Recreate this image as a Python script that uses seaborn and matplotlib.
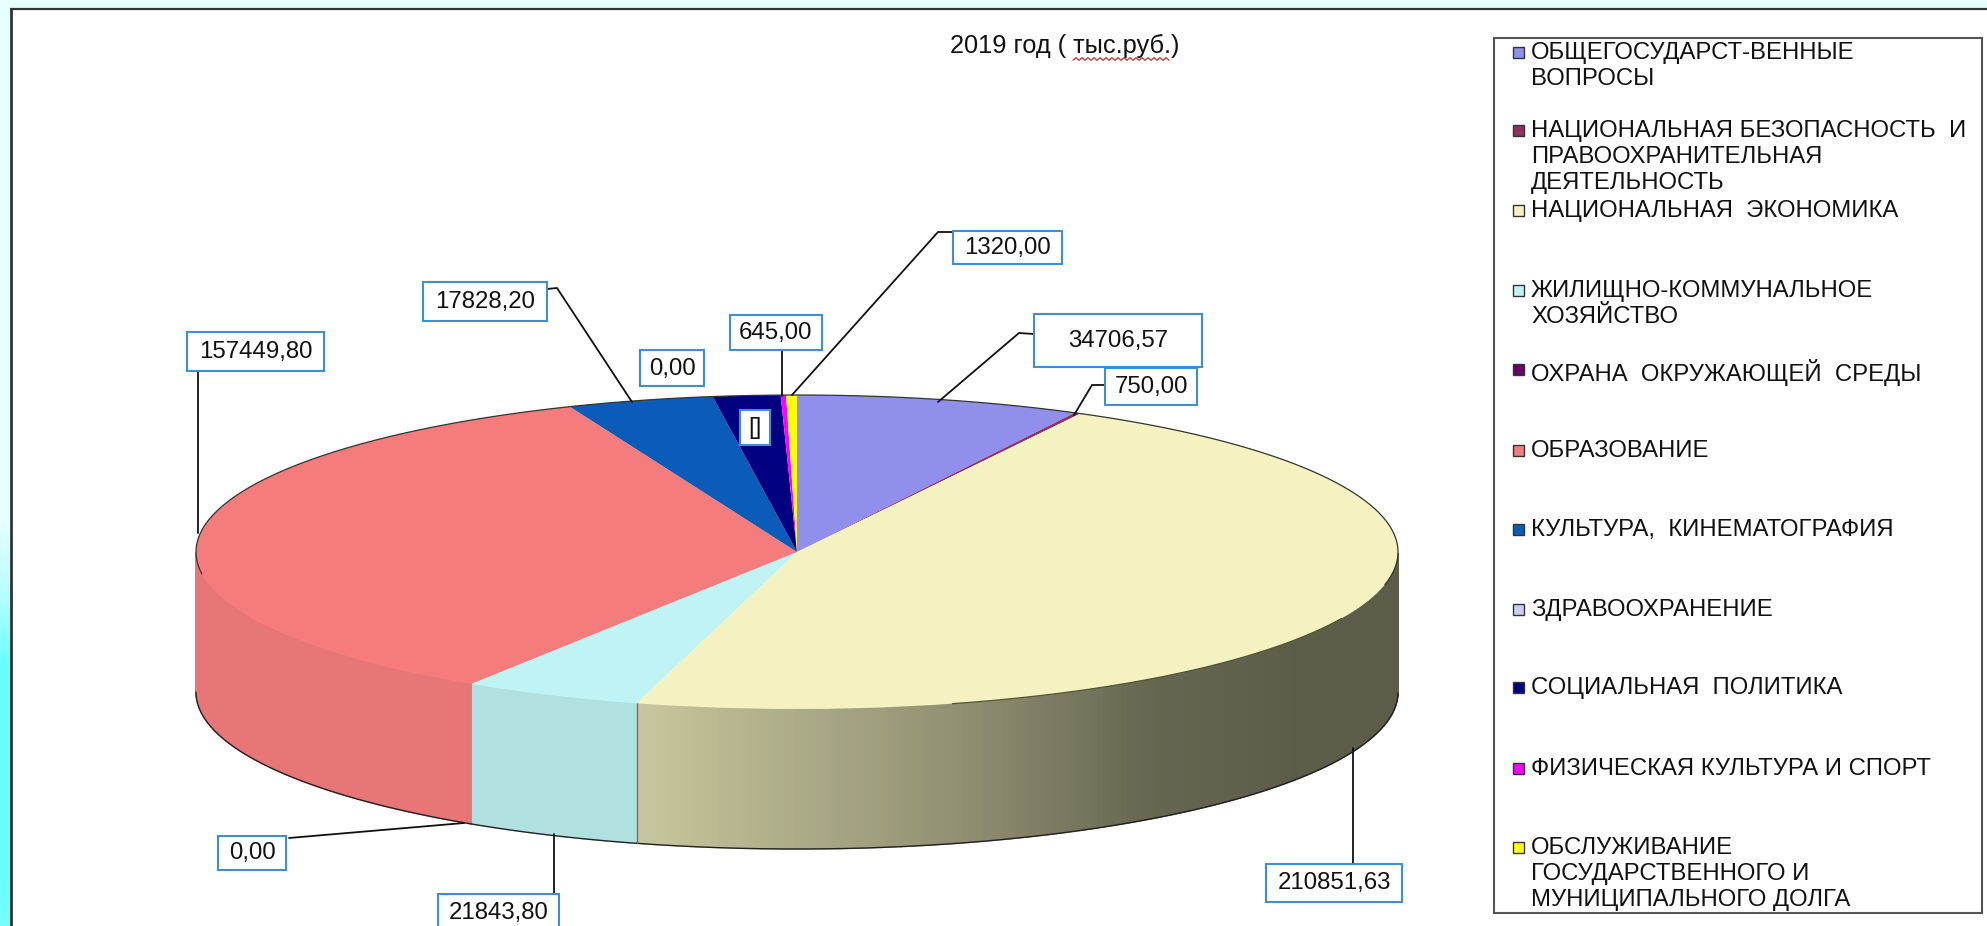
import numpy as np
import matplotlib
matplotlib.use("Agg")
import matplotlib.pyplot as plt
from matplotlib.colors import to_rgb
from matplotlib.patches import Rectangle
import seaborn as sns

# ---- data ----
categories = [
    "ОБЩЕГОСУДАРСТ-ВЕННЫЕ\nВОПРОСЫ",
    "НАЦИОНАЛЬНАЯ БЕЗОПАСНОСТЬ  И\nПРАВООХРАНИТЕЛЬНАЯ\nДЕЯТЕЛЬНОСТЬ",
    "НАЦИОНАЛЬНАЯ  ЭКОНОМИКА",
    "ЖИЛИЩНО-КОММУНАЛЬНОЕ\nХОЗЯЙСТВО",
    "ОХРАНА  ОКРУЖАЮЩЕЙ  СРЕДЫ",
    "ОБРАЗОВАНИЕ",
    "КУЛЬТУРА,  КИНЕМАТОГРАФИЯ",
    "ЗДРАВООХРАНЕНИЕ",
    "СОЦИАЛЬНАЯ  ПОЛИТИКА",
    "ФИЗИЧЕСКАЯ КУЛЬТУРА И СПОРТ",
    "ОБСЛУЖИВАНИЕ\nГОСУДАРСТВЕННОГО И\nМУНИЦИПАЛЬНОГО ДОЛГА",
]
# The social-policy slice carries the label "[]"; its value is estimated from its arc.
values = [34706.57, 750.00, 210851.63, 21843.80, 0.00, 157449.80,
          17828.20, 0.00, 8200.00, 645.00, 1320.00]
value_labels = ["34706,57", "750,00", "210851,63", "21843,80", "0,00", "157449,80",
                "17828,20", "0,00", "[]", "645,00", "1320,00"]
colors = ["#9090ec", "#8f3060", "#f4f2c0", "#c0f4f4", "#660066", "#f57c7c",
          "#0a5cb8", "#ccccff", "#000080", "#ff00ff", "#ffff00"]
title = "2019 год ( тыс.руб.)"

W, H = 1987, 926
CX, CY, RX, RY, DEPTH = 797, 552, 601, 157, 140

sns.set_theme(style="white")
plt.rcParams["font.family"] = ["Liberation Sans", "DejaVu Sans"]
palette = sns.color_palette(colors)

fig = plt.figure(figsize=(W / 100, H / 100), dpi=100, facecolor="white")

# ---- page background: pale band on top, gradient strip on the left ----
bg = fig.add_axes([0, 0, 1, 1], zorder=0)
grad_pos = [0.0, 0.56, 0.64, 0.72, 0.95, 1.0]
grad_col = ["#e8ffff", "#e8ffff", "#b8ffff", "#66ffff", "#66ffff", "#78ffff"]
t = np.linspace(0, 1, 400)
ramp = np.stack([np.interp(t, grad_pos, [to_rgb(c)[k] for c in grad_col]) for k in range(3)], axis=1)
bg.imshow(ramp[:, None, :], extent=(0, 9.5, H, 0), aspect="auto", zorder=1)
bg.add_patch(Rectangle((0, 0), W, 8, fc="#e8ffff", ec="none", zorder=1))
bg.set_xlim(0, W); bg.set_ylim(H, 0); bg.axis("off")
bg.plot([10.5, 10.5], [H, 8.5], color="#333333", lw=2.0, zorder=2, solid_capstyle="butt")
bg.plot([10, W], [8.5, 8.5], color="#333333", lw=1.6, zorder=2, solid_capstyle="butt")

# ---- pie: unit circle stretched by the axes into an ellipse ----
ax = fig.add_axes([0, 0, 1, 1], zorder=1)
ax.patch.set_alpha(0)
total = sum(values)
bounds = 90 - np.cumsum([0] + values) / total * 360  # clockwise from 12 o'clock

# side wall, drawn as vertical strips with shading that depends on position
shade_x = [-1.0, -0.26, 0.30, 0.59, 0.84, 1.0]
shade_f = [0.84, 0.82, 0.58, 0.42, 0.38, 0.38]
flat_f = {3: 0.92, 5: 0.95}
depth_y = DEPTH / RY
for i, col in enumerate(palette):
    a0, a1 = bounds[i + 1], bounds[i]
    th = np.linspace(np.radians(a0), np.radians(a1), max(2, int((a1 - a0) * 1.5)))
    vis = np.sin(th) <= 0.001
    if vis.sum() < 2 or values[i] == 0:
        continue
    th = th[vis]
    xs, ys = np.cos(th), np.sin(th)
    for j in range(len(th) - 1):
        mid = (xs[j] + xs[j + 1]) / 2
        f = flat_f.get(i, np.interp(mid, shade_x, shade_f))
        shade = tuple(c * f for c in col)
        ax.fill([xs[j], xs[j + 1], xs[j + 1], xs[j]],
                [ys[j], ys[j + 1], ys[j + 1] - depth_y, ys[j] - depth_y],
                fc=shade, ec=shade, lw=1.0, zorder=1)
    ax.plot(xs, ys - depth_y, color="#222222", lw=1.0, zorder=1.5)
    if i == 2:  # seam between housing and economy walls
        ax.plot([xs[0], xs[0]], [ys[0], ys[0] - depth_y], color="#55777a", lw=1.0, zorder=1.5)

# top surface through matplotlib's pie
wedges, _ = ax.pie(values, colors=palette, startangle=90, counterclock=False, radius=1,
                   wedgeprops=dict(ec="none", zorder=2, lw=0), normalize=True)
ax.set_aspect("auto")
ax.set_xlim((0 - CX) / RX, (W - CX) / RX)
ax.set_ylim((CY - H) / RY, (CY - 0) / RY)
ax.set_xticks([]); ax.set_yticks([])
ax.set_frame_on(False)
# dark outline along the back half of the ellipse and part of the front right
back = np.radians(np.linspace(-12, 188, 401))
ax.plot(np.cos(back), np.sin(back), color="#333333", lw=0.9, zorder=3)
front = np.radians(np.linspace(-75, -25, 101))
ax.plot(np.cos(front), np.sin(front), color="#55552f", lw=0.9, zorder=3)

# ---- overlay in page pixels: leaders, labels, legend ----
ov = fig.add_axes([0, 0, 1, 1], zorder=2)
ov.patch.set_alpha(0)
ov.set_xlim(0, W); ov.set_ylim(H, 0); ov.axis("off")


def box_label(text, x0, y0, x1, y1, size=17.3):
    ov.add_patch(Rectangle((x0, y0), x1 - x0, y1 - y0, fc="white", ec="#3f8fd0", lw=1.5, zorder=5))
    ov.text((x0 + x1) / 2, (y0 + y1) / 2 + 0.5, text, ha="center", va="center",
            fontsize=size, color="#111111", zorder=6, clip_on=False)


leaders = [
    ([1034, 1019, 938], [334, 333, 402]),   # 34706,57
    ([1105, 1092, 1074], [385, 385, 415]),  # 750,00
    ([1353, 1353], [748, 864]),             # 210851,63
    ([554, 554], [834, 894]),               # 21843,80
    ([289, 464], [838, 823]),               # 0,00 (environment)
    ([198, 198], [371, 533]),               # 157449,80
    ([547, 557, 632], [289, 288, 402]),     # 17828,20
    ([782, 782], [350, 396]),               # 645,00
    ([953, 938, 792], [232, 232, 395]),     # 1320,00
]
for xs, ys in leaders:
    ov.plot(xs, ys, color="#111111", lw=1.3, zorder=4)

box_label(value_labels[0], 1034, 314, 1202, 367)
box_label(value_labels[1], 1105, 368, 1197, 405)
box_label(value_labels[2], 1266, 864, 1402, 902)
box_label(value_labels[3], 438, 894, 559, 932)
box_label(value_labels[4], 218, 836, 286, 870)
box_label(value_labels[5], 187, 332, 324, 371)
box_label(value_labels[6], 423, 282, 547, 321)
box_label(value_labels[7], 640, 350, 704, 386)
box_label(value_labels[9], 730, 315, 822, 350)
box_label(value_labels[10], 953, 231, 1062, 264)
box_label(value_labels[8], 740, 410, 770, 445)

ov.text(1065, 46, title, ha="center", va="center", fontsize=18.3, color="#111111")
# spell-check squiggle under the unit
sq_x = np.arange(1073, 1170, 3)
sq_y = 59 + 1.3 * (-1.0) ** np.arange(len(sq_x))
ov.plot(sq_x, sq_y, color="#c83030", lw=0.9, zorder=4)

# legend frame and entries
ov.add_patch(Rectangle((1494, 38), 1982 - 1494, 913 - 38, fc="none", ec="#555555", lw=1.5, zorder=3))
entry_y = [53, 131, 211, 291, 370, 451, 530, 610, 688, 769, 848]
for col, label, y in zip(palette, categories, entry_y):
    ov.add_patch(Rectangle((1513, y - 6), 11, 11, fc=col, ec="#333333", lw=1.0, zorder=4))
    ov.text(1531, y - 11, label, ha="left", va="top", fontsize=17.2, color="#111111",
            linespacing=1.24, zorder=4)

fig.savefig("out.png", dpi=100)
